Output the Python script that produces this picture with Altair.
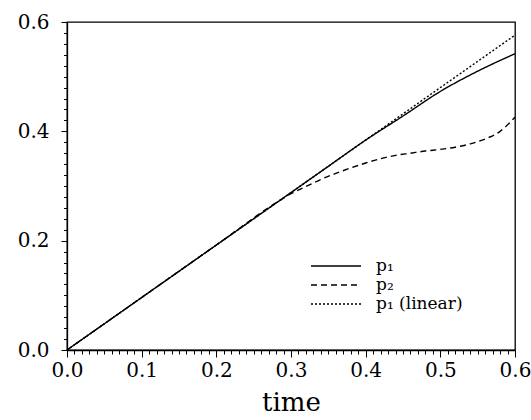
import altair as alt
import pandas as pd

# ---- data ----
t_p1 = [0.0, 0.1, 0.2, 0.3, 0.35, 0.4, 0.45, 0.5, 0.55, 0.6]
p1 = [0.0, 0.096, 0.192, 0.288, 0.336, 0.384, 0.428, 0.473, 0.510, 0.542]

t_p2 = [0.0, 0.1, 0.2, 0.29, 0.30, 0.32, 0.34, 0.36, 0.38, 0.40, 0.42, 0.44,
        0.46, 0.48, 0.50, 0.52, 0.54, 0.56, 0.58, 0.60]
p2 = [0.0, 0.096, 0.192, 0.278, 0.286, 0.299, 0.312, 0.323, 0.333, 0.342,
      0.350, 0.356, 0.360, 0.364, 0.367, 0.371, 0.377, 0.386, 0.400, 0.426]

t_lin = [0.0, 0.6]
p1_lin = [0.0, 0.576]

series_names = ["p₁", "p₂", "p₁  (linear)"]
x_ticks = [round(i * 0.01, 2) for i in range(61)]
y_ticks = [round(i * 0.02, 2) for i in range(31)]

rows = []
for name, ts, vs in zip(series_names, [t_p1, t_p2, t_lin], [p1, p2, p1_lin]):
    for i, (t, v) in enumerate(zip(ts, vs)):
        rows.append({"time": t, "value": v, "series": name, "idx": i})
df = pd.DataFrame(rows)

FONT = "DejaVu Serif"

x_axis = alt.Axis(
    values=x_ticks,
    labelExpr="abs(datum.value*10 - round(datum.value*10)) < 0.001 ? format(datum.value, '.1f') : ''",
    tickSize={"condition": {"test": "abs(datum.value*10 - round(datum.value*10)) < 0.001", "value": 7}, "value": 4},
    labelOverlap=False, labelFlush=False,
    labelFont=FONT, labelFontSize=20, labelColor="black", labelPadding=3,
    tickColor="black", tickWidth=1, domainColor="black", domainWidth=1.3,
    grid=False,
    title="time", titleFont=FONT, titleFontSize=26, titleFontWeight="normal",
    titleColor="black", titlePadding=9,
)
y_axis = alt.Axis(
    values=y_ticks,
    labelExpr="abs(datum.value*5 - round(datum.value*5)) < 0.001 ? format(datum.value, '.1f') : ''",
    tickSize={"condition": {"test": "abs(datum.value*5 - round(datum.value*5)) < 0.001", "value": 6}, "value": 3.5},
    labelOverlap=False, labelFlush=False,
    labelFont=FONT, labelFontSize=20, labelColor="black", labelPadding=12,
    tickColor="black", tickWidth=1, domainColor="black", domainWidth=1.3,
    grid=False, title=None,
)

chart = alt.Chart(df).mark_line(color="black", strokeWidth=1.4, interpolate="monotone").encode(
    x=alt.X("time:Q", scale=alt.Scale(domain=[0, 0.6], nice=False, zero=False), axis=x_axis),
    y=alt.Y("value:Q", scale=alt.Scale(domain=[0, 0.6], nice=False, zero=False), axis=y_axis),
    strokeDash=alt.StrokeDash(
        "series:N",
        scale=alt.Scale(domain=series_names, range=[[1, 0], [6, 4], [2, 2]]),
        sort=series_names,
        legend=alt.Legend(
            title=None, orient="none", legendX=243, legendY=235,
            symbolType="stroke", symbolSize=2500, symbolStrokeWidth=1.3,
            symbolStrokeColor="black", clipHeight=18, rowPadding=1,
            labelFont=FONT, labelFontSize=17, labelColor="black", labelOffset=14,
        ),
    ),
    order="idx:Q",
).properties(
    width=448, height=328,
    autosize=alt.AutoSizeParams(type="none"),
    padding={"left": 67, "top": 22, "right": 16, "bottom": 70},
).configure_view(stroke="black", strokeWidth=1.3)

chart.save("out.html", embed_options={"renderer": "svg", "actions": False})
